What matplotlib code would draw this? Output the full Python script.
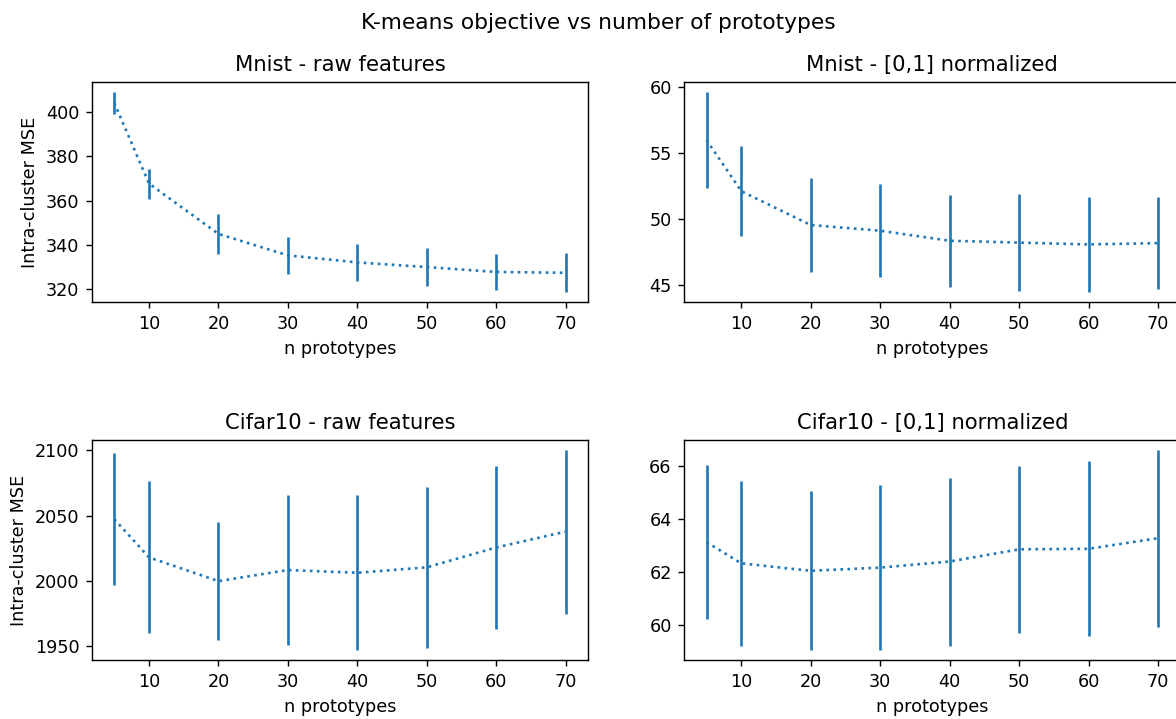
import matplotlib
matplotlib.use("Agg")
import matplotlib.pyplot as plt

n_prototypes = [5, 10, 20, 30, 40, 50, 60, 70]

mnist_raw_mean = [404.2, 367.7, 344.9, 335.2, 332.0, 329.9, 327.7, 327.3]
mnist_raw_std = [5.05, 6.8, 9.1, 8.4, 8.35, 8.75, 8.3, 8.8]

mnist_norm_mean = [55.97, 52.10, 49.54, 49.11, 48.35, 48.21, 48.07, 48.17]
mnist_norm_std = [3.66, 3.42, 3.58, 3.53, 3.50, 3.65, 3.62, 3.50]

cifar_raw_mean = [2047.3, 2018.0, 1999.8, 2008.3, 2006.2, 2010.4, 2025.6, 2037.7]
cifar_raw_std = [50.6, 58.3, 45.2, 57.75, 59.35, 61.5, 62.4, 62.75]

cifar_norm_mean = [63.12, 62.32, 62.04, 62.16, 62.39, 62.85, 62.87, 63.27]
cifar_norm_std = [2.90, 3.10, 3.00, 3.10, 3.17, 3.16, 3.31, 3.34]

titles = ["Mnist - raw features", "Mnist - [0,1] normalized",
          "Cifar10 - raw features", "Cifar10 - [0,1] normalized"]
means = [mnist_raw_mean, mnist_norm_mean, cifar_raw_mean, cifar_norm_mean]
stds = [mnist_raw_std, mnist_norm_std, cifar_raw_std, cifar_norm_std]
x_ticks = [10, 20, 30, 40, 50, 60, 70]
y_ticks = [[320, 340, 360, 380, 400], [45, 50, 55, 60],
           [1950, 2000, 2050, 2100], [60, 62, 64, 66]]

W, H = 1176, 719
DPI = 127
fig = plt.figure(figsize=(W / DPI, H / DPI), dpi=DPI)

# axes boxes in pixels: (left, top, right, bottom)
boxes = [
    (91.7, 81.7, 588.3, 302.3),
    (684.0, 81.7, 1180.6, 302.3),
    (91.7, 439.7, 588.3, 660.3),
    (684.0, 439.7, 1180.6, 660.3),
]

for i, (l, t, r, b) in enumerate(boxes):
    ax = fig.add_axes([l / W, 1 - b / H, (r - l) / W, (b - t) / H])
    ax.errorbar(n_prototypes, means[i], yerr=stds[i], linestyle=":",
                color="#1f77b4")
    ax.set_title(titles[i])
    ax.set_xlabel("n prototypes")
    if i % 2 == 0:
        ax.set_ylabel("Intra-cluster MSE")
    ax.set_xticks(x_ticks)
    ax.set_yticks(y_ticks[i])

fig.suptitle("K-means objective vs number of prototypes", fontsize=12.3,
             x=598 / W, y=1 - 23 / H, va="center")

fig.savefig("out.png", dpi=DPI)
